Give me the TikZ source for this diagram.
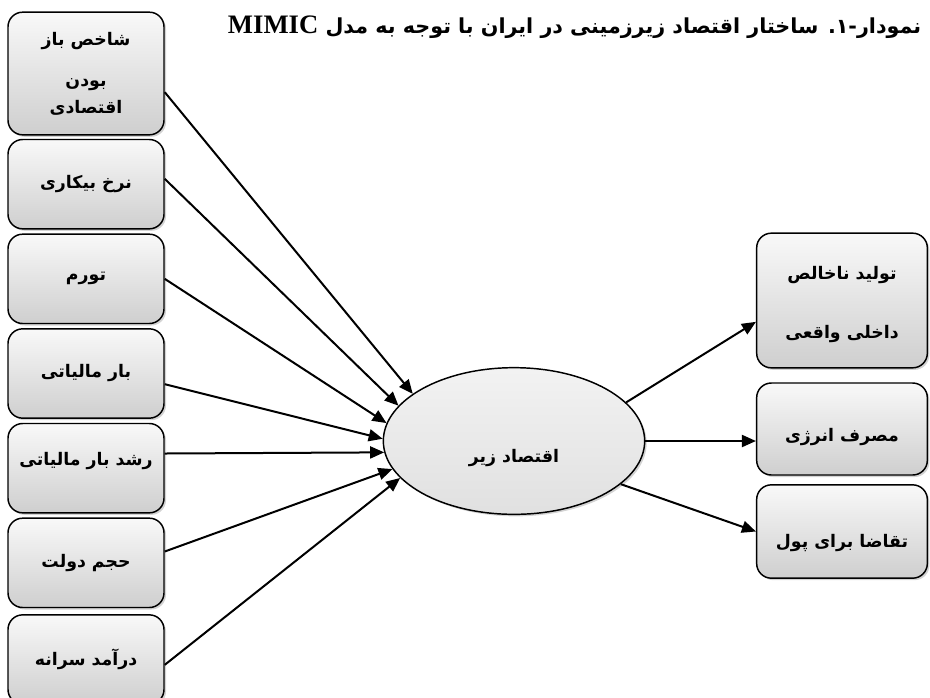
\documentclass[tikz,border=0pt]{standalone}
\usepackage{fontspec}
\usetikzlibrary{shapes.geometric,shadows,arrows.meta}
\newfontfamily\farsifont[Script=Arabic]{DejaVu Sans}
\newfontfamily\latinfont{Liberation Serif}
\TeXXeTstate=1
\newcommand{\fa}[1]{\beginR #1\endR}
\newcommand{\shifttext}[2]{\raisebox{#1}[\height][\depth]{#2}}

\begin{document}
\begin{tikzpicture}[x=0.75pt,y=-0.75pt,node distance=71pt,
	every node/.style={font=\farsifont\bfseries\fontsize{13}{17}\selectfont},
	factor/.style={draw,line width=1.1pt,rounded corners=11pt,minimum width=117pt,minimum height=67pt,align=center,top color=gray!5,bottom color=gray!38,drop shadow={shadow xshift=1.5pt,shadow yshift=-1.5pt,opacity=0.35}},
	latent/.style={draw,ellipse,line width=1.1pt,minimum width=196pt,minimum height=110pt,inner sep=0pt,top color=gray!10,bottom color=gray!24,drop shadow={shadow xshift=1.5pt,shadow yshift=-1.5pt,opacity=0.35}},
	arr/.style={line width=1.5pt,-{Triangle[length=10.5pt,width=9pt]}}]
	\useasboundingbox (0,0) rectangle (930,697);
	\node[anchor=east,font=\farsifont\bfseries\fontsize{15.5}{18}\selectfont] (onvan) at (926,27) {\fa{نمودار-۱. ساختار اقتصاد زیرزمینی در ایران با توجه به مدل \beginL{\latinfont\fontsize{20}{20}\selectfont MIMIC}\endL}};
	\node[factor,minimum height=92pt] (bazbudan) at (86,73.5) {\fa{شاخص باز}\\[14pt]\fa{بودن}\\[3pt]\fa{اقتصادی}};
	\node[factor,node distance=83pt,below of=bazbudan] (bikari) {\fa{نرخ بیکاری}};
	\node[factor,below of=bikari] (tavarrom) {\fa{تورم}};
	\node[factor,below of=tavarrom] (maliat) {\fa{بار مالیاتی}};
	\node[factor,below of=maliat] (roshdmaliat) {\shifttext{5pt}{\beginR رشد بار مالیاتی\endR}};
	\node[factor,below of=roshdmaliat] (dolat) {\fa{حجم دولت}};
	\node[factor,below of=dolat,yshift=-1.5pt] (daramad) {\fa{درآمد سرانه}};
	\node[latent] (eghtesad) at (514,441) {\shifttext{-13pt}{\beginR اقتصاد زیر\endR}};
	\node[factor,minimum width=128pt,minimum height=101pt] (tolid) at (842,300.5) {\shifttext{-3pt}{\beginR تولید ناخالص\endR}\\[27pt]\shifttext{-3pt}{\beginR داخلی واقعی\endR}};
	\node[factor,minimum width=128pt,minimum height=69pt] (energy) at (842,429) {\shifttext{-6pt}{\beginR مصرف انرژی\endR}};
	\node[factor,minimum width=128pt,minimum height=70pt] (pul) at (842,531.5) {\shifttext{-9pt}{\beginR تقاضا برای پول\endR}};
	\draw[arr] ([yshift=-14pt]bazbudan.east) -- (eghtesad.155);
	\draw[arr] ([yshift=4pt]bikari.east) -- (eghtesad.163);
	\draw[arr] (tavarrom.east) -- (eghtesad.172);
	\draw[arr] ([yshift=-8pt]maliat.east) -- (eghtesad.179);
	\draw[arr] ([yshift=11pt]roshdmaliat.east) -- (eghtesad.185);
	\draw[arr] ([yshift=8.5pt]dolat.east) -- (eghtesad.193);
	\draw[arr] ([yshift=-4pt]daramad.east) -- (eghtesad.198);
	\draw[arr] (eghtesad.19) -- ([yshift=-16pt]tolid.west);
	\draw[arr] (eghtesad.east) -- (eghtesad.east -| energy.west);
	\draw[arr] (eghtesad.338) -- (pul.west);
\end{tikzpicture}
\end{document}
